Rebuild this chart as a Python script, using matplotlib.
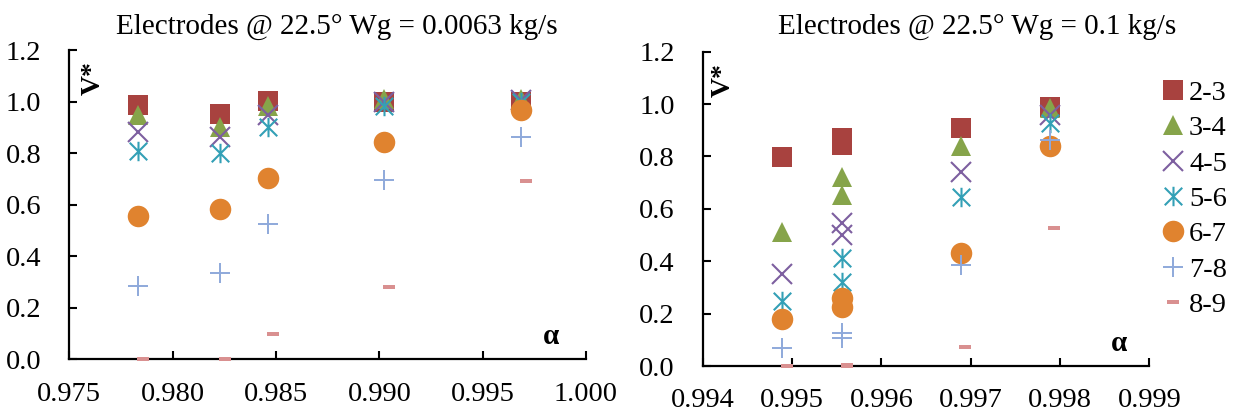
import matplotlib
matplotlib.use('Agg')
import matplotlib.pyplot as plt
from matplotlib.path import Path

plt.rcParams['font.family'] = ['Liberation Serif', 'DejaVu Serif']

# series names and styles
series = ['2-3', '3-4', '4-5', '5-6', '6-7', '7-8', '8-9']

# left panel: Wg = 0.0063 kg/s
alpha_L = [0.97833, 0.98231, 0.98463, 0.99022, 0.99687]
alpha_L_89 = [0.97855, 0.98252, 0.98484, 0.99049, 0.99708]
v23_L = [0.985, 0.950, 1.003, 1.000, 1.000]
v34_L = [0.948, 0.900, 0.983, 1.009, 1.010]
v45_L = [0.883, 0.864, 0.948, 1.000, 1.006]
v56_L = [0.810, 0.800, 0.903, 0.983, 1.000]
v67_L = [0.556, 0.583, 0.702, 0.842, 0.967]
v78_L = [0.284, 0.336, 0.524, 0.696, 0.861]
v89_L = [0.000, 0.000, 0.097, 0.281, 0.691]

# right panel: Wg = 0.1 kg/s
alpha_R = [0.99489, 0.99556, 0.99556, 0.99689, 0.99789]
alpha_R_89 = [0.99494, 0.99561, 0.99561, 0.99694, 0.99793]
v23_R = [0.797, 0.869, 0.843, 0.909, 0.987]
v34_R = [0.513, 0.722, 0.653, 0.841, 0.983]
v45_R = [0.350, 0.545, 0.500, 0.739, 0.958]
v56_R = [0.249, 0.411, 0.322, 0.646, 0.929]
v67_R = [0.179, 0.258, 0.226, 0.430, 0.840]
v78_R = [0.068, 0.127, 0.106, 0.385, 0.863]
v89_R = [0.000, 0.004, 0.000, 0.074, 0.526]

colors = ['#A8423F', '#86A44A', '#7D5FA0', '#33A0B6', '#E0832F', '#8EA9DB', '#D99090']

star = Path([(-0.9, -0.9), (0.9, 0.9), (-0.9, 0.9), (0.9, -0.9), (0, -1), (0, 1)],
            [Path.MOVETO, Path.LINETO, Path.MOVETO, Path.LINETO, Path.MOVETO, Path.LINETO])
dash = [(-1, -0.28), (1, -0.28), (1, 0.28), (-1, 0.28)]

styles = [
    dict(marker='s', ms=14, mew=0),
    dict(marker='^', ms=15, mew=0),
    dict(marker='x', ms=14, mew=1.5),
    dict(marker=star, ms=14, mew=1.5),
    dict(marker='o', ms=15.5, mew=0),
    dict(marker='+', ms=14, mew=1.4),
    dict(marker=dash, ms=8, mew=0),
]

fig = plt.figure(figsize=(12.36, 4.12), dpi=100)
axL = fig.add_axes([69.3 / 1236, 1 - 359.3 / 412, (586 - 69.3) / 1236, 309.3 / 412])
axR = fig.add_axes([702.7 / 1236, 1 - 366 / 412, (1149.3 - 702.7) / 1236, 314.4 / 412])


def draw(ax, xs, xs89, ys, xlim, xticks, xfmt):
    handles = []
    for i, y in enumerate(ys):
        x = xs89 if i == 6 else xs
        st = styles[i]
        h, = ax.plot(x, y, linestyle='none', marker=st['marker'], markersize=st['ms'],
                     markeredgewidth=st['mew'], color=colors[i], clip_on=False,
                     label=series[i], zorder=3)
        handles.append(h)
    ax.set_xlim(*xlim)
    ax.set_ylim(0, 1.2)
    ax.set_xticks(xticks)
    ax.set_xticklabels([xfmt % t for t in xticks])
    ax.set_yticks([0, 0.2, 0.4, 0.6, 0.8, 1.0, 1.2])
    ax.set_yticklabels(['%.1f' % t for t in [0, 0.2, 0.4, 0.6, 0.8, 1.0, 1.2]])
    for s in ['top', 'right']:
        ax.spines[s].set_visible(False)
    for s in ['left', 'bottom']:
        ax.spines[s].set_linewidth(1.6)
    ax.tick_params(axis='both', direction='in', length=6, width=1.5, labelsize=20.5)
    ax.tick_params(axis='y', pad=20)
    ax.tick_params(axis='x', pad=16)
    ax.text(0.046, 0.908, 'V*', rotation=90, transform=ax.transAxes, fontsize=20,
            fontweight='bold', ha='center', va='center')
    ax.text(0.932, 0.073, 'α', transform=ax.transAxes, fontsize=21,
            fontweight='bold', ha='center', va='center')
    return handles


draw(axL, alpha_L, alpha_L_89,
     [v23_L, v34_L, v45_L, v56_L, v67_L, v78_L, v89_L],
     (0.975, 1.0), [0.975, 0.980, 0.985, 0.990, 0.995, 1.000], '%.3f')
handles = draw(axR, alpha_R, alpha_R_89,
               [v23_R, v34_R, v45_R, v56_R, v67_R, v78_R, v89_R],
               (0.994, 0.999), [0.994, 0.995, 0.996, 0.997, 0.998, 0.999], '%.3f')

fig.text(337 / 1236, 1 - 27 / 412, 'Electrodes @ 22.5° Wg = 0.0063 kg/s',
         fontsize=21, ha='center', va='center')
fig.text(977 / 1236, 1 - 27 / 412, 'Electrodes @ 22.5° Wg = 0.1 kg/s',
         fontsize=21, ha='center', va='center')

fig.legend(handles=handles, loc='upper left', bbox_to_anchor=(1162 / 1236, 1 - 80 / 412),
           frameon=False, fontsize=20.5, handlelength=0.8, handletextpad=0.15,
           labelspacing=0.33, borderpad=0, borderaxespad=0, numpoints=1)

fig.savefig('out.png', dpi=100)
